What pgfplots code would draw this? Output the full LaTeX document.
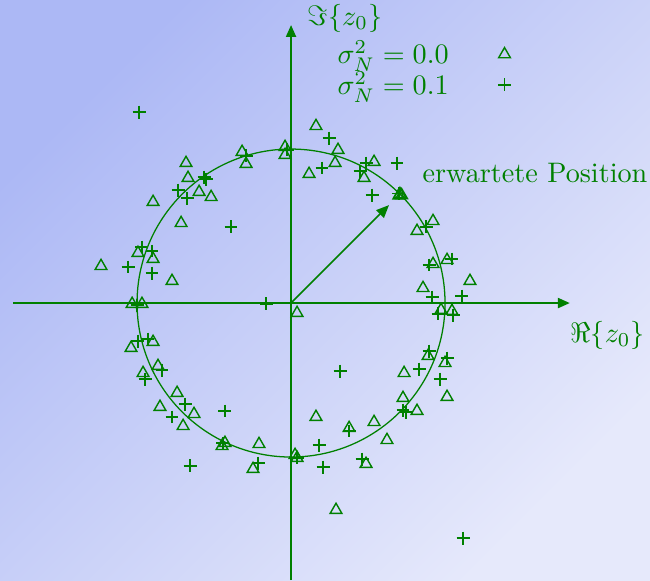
\documentclass[border=0pt]{standalone}
\usepackage{pgfplots}
\pgfplotsset{compat=1.18}
\usetikzlibrary{arrows.meta,backgrounds}
\definecolor{zgreen}{RGB}{0,128,0}
\definecolor{bgA}{RGB}{172,184,245}
\definecolor{bgB}{RGB}{230,233,251}

% estimated zeros z_0, noise-free case
\pgfplotstableread{
x y
-0.682 0.909
-0.669 0.812
-0.597 0.721
-0.519 0.688
-0.896 0.656
-0.318 0.981
-0.292 0.903
-0.039 1.013
-0.039 0.961
0.162 1.149
0.305 0.994
0.286 0.909
0.117 0.838
0.539 0.916
0.474 0.812
0.707 0.707
0.718 0.700
0.700 0.698
-0.714 0.519
-0.994 0.325
-0.896 0.286
-1.234 0.240
-0.773 0.143
0.818 0.468
0.922 0.532
0.922 0.253
1.013 0.279
1.162 0.143
0.857 0.097
0.974 -0.045
1.045 -0.052
0.039 -0.065
-1.032 -0.006
-0.968 -0.006
-1.039 -0.292
-0.896 -0.253
-0.961 -0.455
-0.864 -0.409
-0.740 -0.584
-0.851 -0.675
-0.630 -0.721
-0.701 -0.799
-0.448 -0.929
-0.429 -0.909
-0.208 -0.916
-0.247 -1.078
0.039 -1.006
0.026 -0.987
0.734 -0.455
0.890 -0.344
1.000 -0.390
1.013 -0.610
0.727 -0.617
0.818 -0.701
0.162 -0.740
0.377 -0.812
0.539 -0.773
0.623 -0.890
0.487 -1.045
0.292 -1.344
}\zerosclean

% estimated zeros z_0, noise variance 0.1
\pgfplotstableread{
x y
-0.987 1.240
-0.565 0.818
-0.552 0.805
-0.734 0.734
-0.675 0.682
-0.292 0.955
-0.026 0.994
0.247 1.071
0.201 0.877
0.487 0.909
0.448 0.857
0.688 0.909
0.526 0.701
0.700 0.710
-0.390 0.494
-0.968 0.364
-0.903 0.338
-1.058 0.234
-0.903 0.195
-1.000 -0.013
-0.162 -0.006
0.877 0.494
0.896 0.247
1.045 0.286
0.916 0.039
1.110 0.045
0.955 -0.071
1.052 -0.078
-0.994 -0.247
-0.929 -0.234
-0.948 -0.494
-0.838 -0.435
-0.688 -0.656
-0.773 -0.740
-0.429 -0.701
0.318 -0.442
0.831 -0.429
0.896 -0.312
1.013 -0.357
0.968 -0.494
0.727 -0.695
0.747 -0.708
0.377 -0.831
-0.656 -1.058
-0.214 -1.039
-0.442 -0.909
0.039 -1.006
0.182 -0.922
0.208 -1.065
0.461 -1.013
1.117 -1.526
}\zerosnoisy

\begin{document}
\begin{tikzpicture}
\begin{axis}[
  x=54.6pt, y=54.6pt,
  xmin=-1.805, xmax=1.81, ymin=-1.80, ymax=1.805,
  axis lines=middle,
  axis line style={zgreen, line width=0.55pt},
  x axis line style={-{Triangle[length=4.2pt,width=3.6pt]}},
  y axis line style={-{Triangle[length=4.2pt,width=3.6pt]}},
  xtick=\empty, ytick=\empty,
  clip=false,
  legend plot pos=right,
  legend cell align=left,
  legend style={draw=none, fill=none, at={(axis cs:0.225,1.762)},
    anchor=north west, row sep=-0.8pt,
    nodes={inner sep=1pt, text=zgreen},
    /tikz/column 1/.style={column sep=16.5pt}},
]
\addplot[only marks, mark=triangle, mark size=2.4pt, color=zgreen,
  mark options={line width=0.5pt}] table[x=x, y=y] {\zerosclean};
\addlegendentry{$\sigma_N^2 = 0.0$}
\addplot[only marks, mark=+, mark size=2.3pt, color=zgreen,
  mark options={line width=0.5pt}] table[x=x, y=y] {\zerosnoisy};
\addlegendentry{$\sigma_N^2 = 0.1$}

% unit circle and the expected zero position
\draw[zgreen, line width=0.45pt] (axis cs:0,0) circle[radius=1];
\draw[zgreen, line width=0.55pt, -{Triangle[length=4.5pt,width=3.8pt]}]
  (axis cs:0,0) -- (axis cs:0.636,0.636);

\node[anchor=west, text=zgreen, inner sep=0pt] at (axis cs:0.105,1.85) {$\Im\{z_0\}$};
\node[anchor=west, text=zgreen, inner sep=0pt] at (axis cs:1.81,-0.208) {$\Re\{z_0\}$};
\node[anchor=base west, text=zgreen, inner sep=0pt] at (axis cs:0.851,0.786) {erwartete Position};

\coordinate (bl) at (axis cs:-1.890,-1.799);
\coordinate (tr) at (axis cs:2.331,1.968);
\end{axis}
\begin{scope}[on background layer]
  \shade[left color=bgA, right color=bgB, shading angle=45] (bl) rectangle (tr);
\end{scope}
\pgfresetboundingbox
\path[use as bounding box] (bl) rectangle (tr);
\end{tikzpicture}
\end{document}
